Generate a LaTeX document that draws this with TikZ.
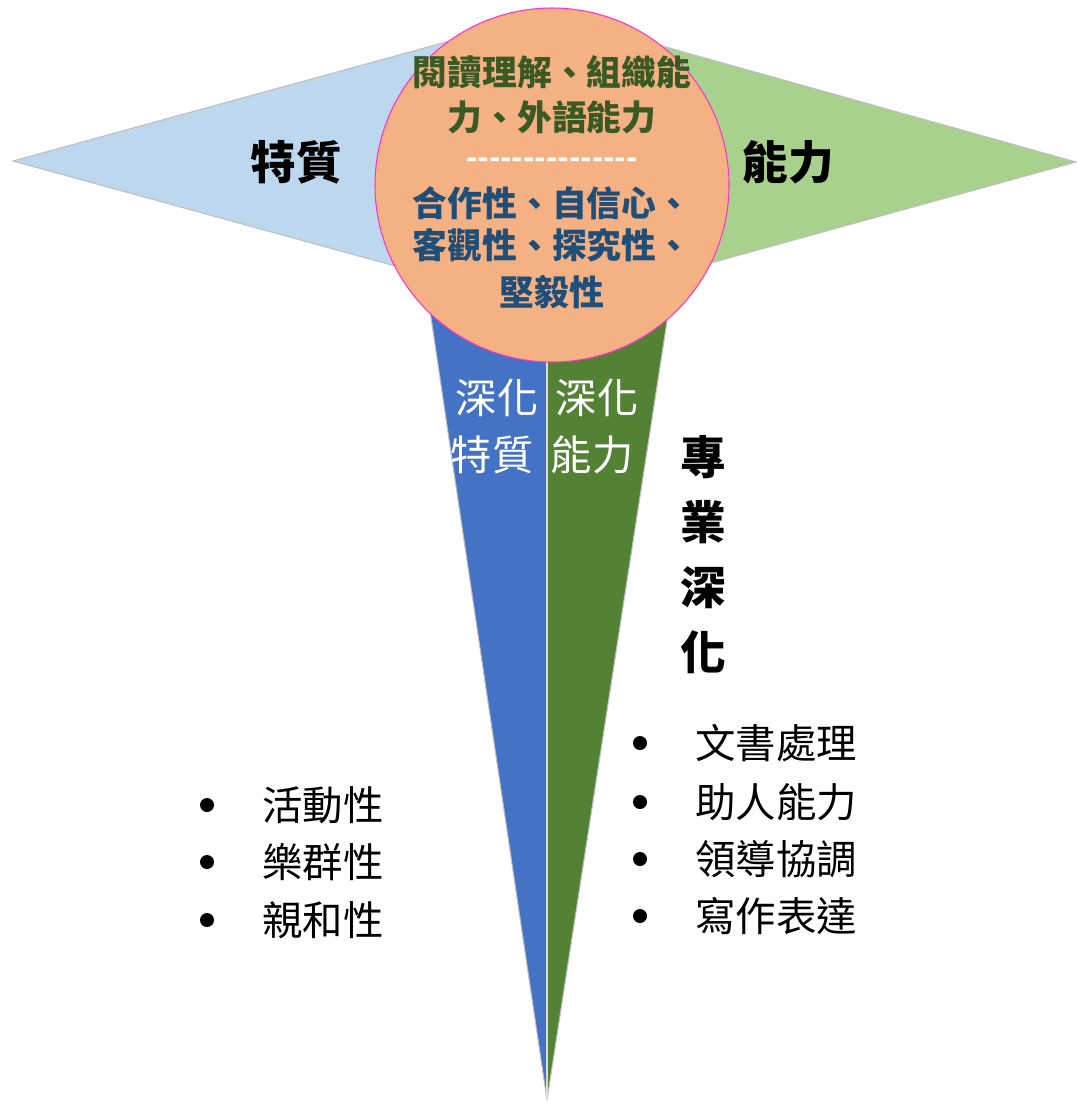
\documentclass[tikz,border=0pt]{standalone}
\usepackage{fontspec}
\newfontfamily\cjk{Noto Sans CJK TC}
\definecolor{lblue}{HTML}{BDD7EE}
\definecolor{lgreen}{HTML}{A9D18E}
\definecolor{dblue}{HTML}{4472C4}
\definecolor{dgreen}{HTML}{548235}
\definecolor{peach}{HTML}{F4B183}
\definecolor{rim}{HTML}{FF33CC}
\definecolor{txtgreen}{HTML}{3A5A24}
\definecolor{txtblue}{HTML}{1F4E79}
\tikzset{
  wing/.style={draw=black!25,line width=0.6pt},
  head/.style={font=\cjk\fontsize{26}{30}\selectfont\bfseries,text=black},
  inner/.style={font=\cjk\fontsize{19.8}{24}\selectfont\bfseries},
  deep/.style={font=\cjk\fontsize{23.5}{28}\selectfont,text=white},
  item/.style={font=\cjk\fontsize{23}{28}\selectfont,text=black,anchor=west,inner sep=0pt},
}
\begin{document}
\begin{tikzpicture}[x=0.02cm,y=-0.02cm]
\useasboundingbox (0,0) rectangle (1076,1103);
\coordinate (L) at (13,161);
\coordinate (R) at (1076,162);
\coordinate (T) at (548,14);
\coordinate (B) at (548,308);
\coordinate (TL) at (421,250);
\coordinate (TM) at (547,250);
\coordinate (TR) at (678,250);
\coordinate (S) at (547,1100);
\coordinate (M) at (552,185);
% wings
\fill[lblue,wing] (L) -- (T) -- (B) -- cycle;
\fill[lgreen,wing] (R) -- (T) -- (B) -- cycle;
\fill[dblue,wing] (TL) -- (TM) -- (S) -- cycle;
\fill[dgreen,wing] (TM) -- (TR) -- (S) -- cycle;
\draw[white!85!black,line width=0.6pt] (TM) -- (S);
% centre
\filldraw[fill=peach,draw=rim,line width=0.6pt] (M) circle[radius=177];
\node[inner,text=txtgreen] (c1) at (552,72) {閱讀理解、組織能};
\node[inner,text=txtgreen] (c2) at (552,117) {力、外語能力};
\node[inner,text=white,font=\cjk\fontsize{17}{20}\selectfont\bfseries] (c3) at (552,163) {---------------};
\node[inner,text=txtblue] (c4) at (552,203) {合作性、自信心、};
\node[inner,text=txtblue] (c5) at (552,245) {客觀性、探究性、};
\node[inner,text=txtblue] (c6) at (552,292) {堅毅性};
% heads
\node[head] (trait) at (296,162) {特質};
\node[head] (skill) at (788,162) {能力};
\node[head,align=center,font=\cjk\fontsize{26}{37}\selectfont\bfseries] (spec) at (703,555) {專\\業\\深\\化};
\node[deep] (d1) at (497,398) {深化};
\node[deep] (d2) at (492,455) {特質};
\node[deep] (d3) at (597,398) {深化};
\node[deep] (d4) at (592,455) {能力};
% lists
\fill (207,805) circle(7) (207,862) circle(7) (207,920) circle(7);
\node[item] (a1) at (262,805) {活動性};
\node[item] (a2) at (262,862) {樂群性};
\node[item] (a3) at (262,920) {親和性};
\fill (640,743) circle(7) (640,802) circle(7) (640,859) circle(7) (640,916) circle(7);
\node[item] (b1) at (695,743) {文書處理};
\node[item] (b2) at (695,802) {助人能力};
\node[item] (b3) at (695,859) {領導協調};
\node[item] (b4) at (695,916) {寫作表達};
\end{tikzpicture}
\end{document}
